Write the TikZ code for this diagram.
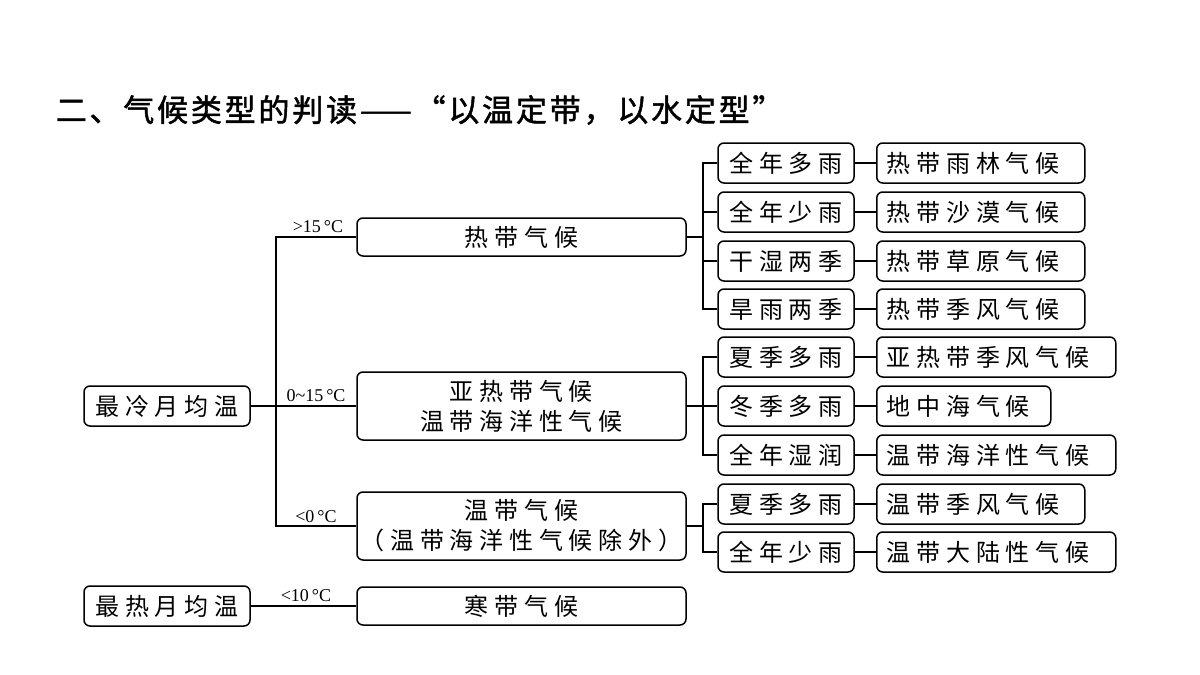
\documentclass[tikz,border=0pt]{standalone}
\usepackage{fontspec}
\setmainfont{Liberation Serif}
\newfontfamily\cjkw[LetterSpace=24]{Noto Sans CJK SC}
\newfontfamily\cjkb[FakeBold=1.5,LetterSpace=9]{Noto Sans CJK SC}
\begin{document}
\begin{tikzpicture}[x=1pt,y=-1pt,line width=1.5pt,
 bx/.style={draw,rounded corners=6pt,inner sep=0pt,font=\fontsize{24}{30}\cjkw,align=center},
 lb/.style={font=\fontsize{18}{18}\selectfont,inner sep=1pt}]
\useasboundingbox (0,0) rectangle (1200,675);
\node[anchor=west,font=\fontsize{31}{31}\cjkb,inner sep=0pt] at (55,110) {二、气候类型的判读——“以温定带，以水定型”};
\node[bx,minimum width=166pt,minimum height=40pt] (c) at (167,406) {最冷月均温};
\node[bx,minimum width=166pt,minimum height=40pt] (h) at (167,606) {最热月均温};
\node[bx,minimum width=329pt,minimum height=38pt] (A) at (521.5,237) {热带气候};
\node[bx,minimum width=329pt,minimum height=68pt] (B) at (521.5,406) {亚热带气候\\温带海洋性气候};
\node[bx,minimum width=329pt,minimum height=68pt] (C) at (521.5,526) {温带气候\\（温带海洋性气候除外）};
\node[bx,minimum width=329pt,minimum height=38pt] (D) at (521.5,606) {寒带气候};
\foreach \n/\y/\t in {m1/163/全年多雨,m2/212/全年少雨,m3/261/干湿两季,m4/309/旱雨两季,m5/357/夏季多雨,m6/406/冬季多雨,m7/455/全年湿润,m8/504/夏季多雨,m9/552/全年少雨}
  \node[bx,minimum width=136pt,minimum height=40pt] (\n) at (786,\y) {\t};
\foreach \n/\y/\w/\t in {r1/163/208/热带雨林气候,r2/212/208/热带沙漠气候,r3/261/208/热带草原气候,r4/309/208/热带季风气候,r5/357/239/亚热带季风气候,r6/406/174/地中海气候,r7/455/239/温带海洋性气候,r8/504/208/温带季风气候,r9/552/239/温带大陆性气候}
  \node[bx,anchor=west,minimum width=\w pt,minimum height=40pt,align=left,text width=\w pt-20pt,inner xsep=10pt] (\n) at (876,\y) {\t};
\foreach \i in {1,...,9} \draw (m\i.east) -- (r\i.west);
\coordinate (t) at (276,406);
\draw (c.east) -- (B.west);
\draw (A.west) -| (C.west -| t) -- (C.west);
\draw (h.east) -- (D.west);
\node[lb,anchor=south] at (318,234) {>15\,°C};
\node[lb,anchor=south] at (316,403) {0\textasciitilde15\,°C};
\node[lb,anchor=south] at (316,524) {<0\,°C};
\node[lb,anchor=south] at (306,603) {<10\,°C};
\draw (A.east) -- ++(16,0) coordinate (a1);
\draw (m1.west) -| (m4.west -| a1) -- (m4.west);
\foreach \i in {2,3} \draw (m\i.west -| a1) -- (m\i.west);
\draw (B.east) -- ++(16,0) coordinate (b1);
\draw (m5.west) -| (m7.west -| b1) -- (m7.west);
\draw (m6.west -| b1) -- (m6.west);
\draw (C.east) -- ++(16,0) coordinate (c1);
\draw (m8.west) -| (m9.west -| c1) -- (m9.west);
\end{tikzpicture}
\end{document}
